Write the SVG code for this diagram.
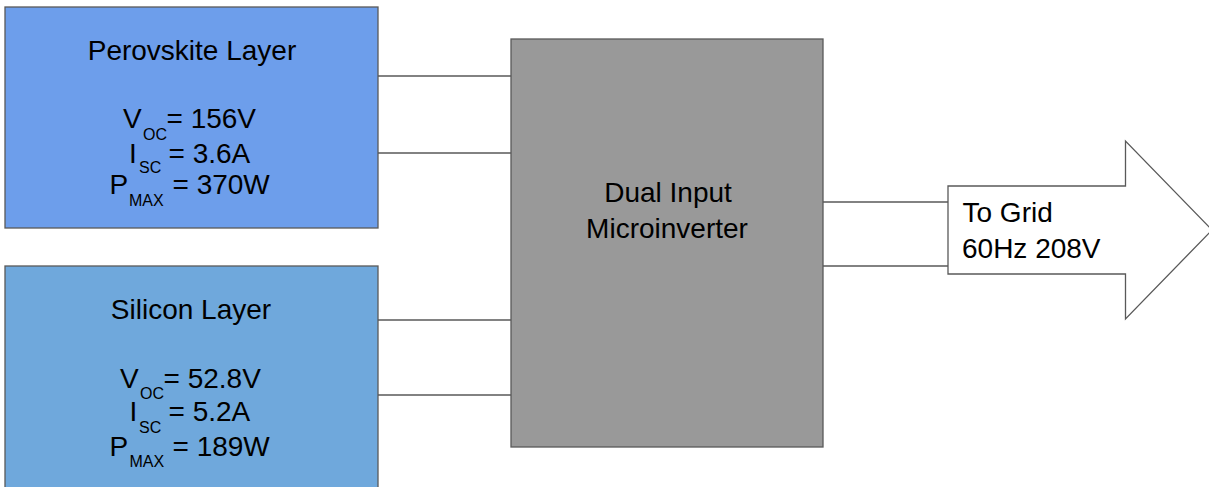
<svg xmlns="http://www.w3.org/2000/svg" width="1209" height="487" viewBox="0 0 1209 487">
<style>
.box{stroke:#595959;stroke-width:1.3}
.wire{stroke:#595959;stroke-width:1.3;fill:none}
text{font-family:"Liberation Sans",Arial,sans-serif;font-size:28px;fill:#000}
.sub{font-size:16px}
.c{text-anchor:middle}
</style>
<rect width="1209" height="487" fill="#ffffff"/>
<g id="connectors">
<line class="wire" x1="378" y1="76" x2="511" y2="76"/>
<line class="wire" x1="378" y1="153" x2="511" y2="153"/>
<line class="wire" x1="378" y1="320" x2="511" y2="320"/>
<line class="wire" x1="378" y1="395" x2="511" y2="395"/>
<line class="wire" x1="823" y1="202" x2="948" y2="202"/>
<line class="wire" x1="823" y1="266" x2="948" y2="266"/>
</g>
<g id="perovskite">
<rect class="box" x="5" y="7" width="373" height="221" fill="#6d9eeb"/>
<text class="c" x="192" y="59.5">Perovskite Layer</text>
<text><tspan x="123" y="128">V</tspan><tspan class="sub" x="143" y="139.5">OC</tspan><tspan x="166.5" y="128">= 156V</tspan></text>
<text><tspan x="129" y="162.5">I</tspan><tspan class="sub" x="139" y="172.5">SC</tspan><tspan x="168.5" y="162.5">= 3.6A</tspan></text>
<text><tspan x="109.5" y="194">P</tspan><tspan class="sub" x="129" y="206">MAX</tspan><tspan x="172.5" y="194">= 370W</tspan></text>
</g>
<g id="silicon">
<rect class="box" x="5" y="266" width="373" height="240" fill="#6fa8dc"/>
<text class="c" x="191" y="319.3">Silicon Layer</text>
<text><tspan x="120" y="387.5">V</tspan><tspan class="sub" x="140" y="399">OC</tspan><tspan x="163.5" y="387.5">= 52.8V</tspan></text>
<text><tspan x="129.5" y="421">I</tspan><tspan class="sub" x="139" y="432.5">SC</tspan><tspan x="168.5" y="421">= 5.2A</tspan></text>
<text><tspan x="109.5" y="455.5">P</tspan><tspan class="sub" x="129.5" y="466.5">MAX</tspan><tspan x="172.5" y="455.5">= 189W</tspan></text>
</g>
<g id="microinverter">
<rect class="box" x="511" y="39" width="312" height="408" fill="#999999"/>
<text class="c" x="668" y="202.3">Dual Input</text>
<text class="c" x="667" y="238.3">Microinverter</text>
</g>
<g id="grid-arrow">
<polygon class="box" points="948,186 1125.5,186 1125.5,141 1212,230 1125.5,319 1125.5,274 948,274" fill="#ffffff"/>
<text x="962.5" y="222.3">To Grid</text>
<text x="962" y="258.3">60Hz 208V</text>
</g>
</svg>
